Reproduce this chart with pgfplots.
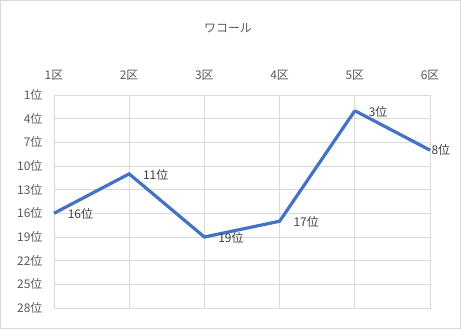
\documentclass[border=0pt]{standalone}
\usepackage{fontspec}
\setmainfont{Noto Sans CJK JP}
\usepackage{pgfplots}
\pgfplotsset{compat=1.18}
\definecolor{linec}{HTML}{4472C4}
\definecolor{gridc}{HTML}{D9D9D9}
\definecolor{tickc}{HTML}{595959}
\definecolor{labc}{HTML}{404040}
\begin{document}
\begin{tikzpicture}
\draw[gridc, line width=0.8bp] (0.5bp,0.5bp) rectangle (460.5bp,328.5bp);
\node[text=tickc, font=\fontsize{12}{14}\selectfont] at (228bp,301bp) {ワコール};
\begin{axis}[
  at={(54bp,21bp)}, anchor=south west,
  scale only axis, width=376bp, height=213bp,
  xmin=1, xmax=6, ymin=1, ymax=28,
  y dir=reverse,
  xtick={1,2,3,4,5,6},
  xticklabels={1区,2区,3区,4区,5区,6区},
  xticklabel pos=top,
  ytick={1,4,7,10,13,16,19,22,25,28},
  yticklabel={\pgfmathprintnumber{\tick}位},
  /pgf/number format/assume math mode=true,
  major tick length=0pt,
  grid=major,
  grid style={gridc, line width=0.8bp},
  axis line style={gridc, line width=0.8bp},
  tick label style={text=tickc, font=\fontsize{12}{14}\selectfont},
  xticklabel style={yshift=11bp},
  yticklabel style={xshift=-8bp},
  clip=false,
]
\addplot[linec, line width=3.2bp, mark=none,
  nodes near coords={\pgfmathprintnumber[fixed,precision=0]{\pgfplotspointmeta}位},
  point meta=explicit,
  every node near coord/.append style={anchor=west, text=labc, font=\fontsize{12}{14}\selectfont, xshift=9bp, yshift=-1bp},
] table[meta=m] {
x y m
1 16 16
2 11 11
3 19 19
4 17 17
5 3 3
};
\addplot[linec, line width=3.2bp, mark=none, forget plot] table {
x y
5 3
6 8
};
\addplot[draw=none, mark=none, forget plot,
  nodes near coords={\pgfmathprintnumber[fixed,precision=0]{\pgfplotspointmeta}位},
  point meta=explicit,
  every node near coord/.append style={anchor=west, text=labc, font=\fontsize{12}{14}\selectfont, xshift=-2bp, yshift=0bp},
] table[meta=m] {
x y m
6 8 8
};
\end{axis}
\end{tikzpicture}
\end{document}
